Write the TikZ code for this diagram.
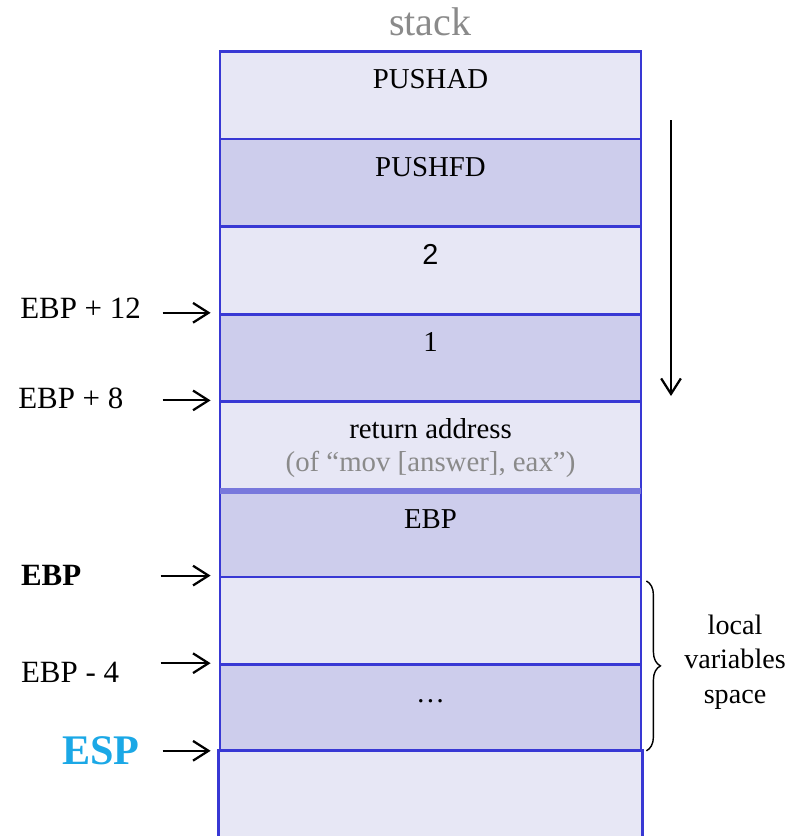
\documentclass[tikz,border=0pt]{standalone}
\usepackage{fontspec}
\setmainfont{Liberation Serif}
\newfontfamily\arialfont{Liberation Sans}
\usetikzlibrary{arrows.meta,decorations.pathreplacing}
\definecolor{stackblue}{HTML}{3838D4}
\definecolor{seplilac}{HTML}{7878DC}
\definecolor{lightcell}{HTML}{E7E7F5}
\definecolor{darkcell}{HTML}{CDCDEC}
\definecolor{espblue}{HTML}{1BA8E6}
\definecolor{notegray}{HTML}{8A8A8A}

\tikzset{
  cell/.style={rectangle, draw=stackblue, line width=2pt, minimum width=10.525cm,
    minimum height=2.19cm, inner sep=0pt, anchor=north},
  oddrow/.style={cell, fill=lightcell},
  evenrow/.style={cell, fill=darkcell},
  entry/.style={anchor=base, inner sep=0pt, font=\fontsize{20.5}{24}\selectfont},
  tag/.style={anchor=base west, inner sep=0pt, font=\fontsize{22}{26}\selectfont},
  ptr/.style={-{Straight Barb[length=11pt,width=14pt,line width=1.6pt]}, line width=1.5pt},
}

\begin{document}
\begin{tikzpicture}

  % bounding box
  \useasboundingbox (0,0) rectangle (20.075,-20.9);

  % title
  \node[anchor=base, inner sep=0pt, text=notegray, font=\fontsize{28.5}{32}\selectfont]
    (title) at (10.76,-0.9) {stack};

  % stack cells
  \node[oddrow]  (c1) at (10.7625,-1.25)  {};
  \node[evenrow] (c2) at (10.7625,-3.44)  {};
  \node[oddrow]  (c3) at (10.7625,-5.63)  {};
  \node[evenrow] (c4) at (10.7625,-7.82)  {};
  \node[oddrow]  (c5) at (10.7625,-10.01) {};
  \node[evenrow] (c6) at (10.7625,-12.2)  {};
  \node[oddrow]  (c7) at (10.7625,-14.39) {};
  \node[evenrow] (c8) at (10.7625,-16.58) {};
  \node[oddrow, draw=none, minimum height=2.13cm] (c9) at (10.7625,-18.77) {};
  \draw[stackblue, line width=2pt] (c9.south west) -- (c9.north west) -- (c9.north east) -- (c9.south east);

  % frame boundary (return address / saved EBP)
  \draw[seplilac, line width=4.3pt, shorten <=1pt, shorten >=1pt] (c5.south west) -- (c5.south east);

  % cell texts
  \node[entry] (t1) at ([yshift=-0.97cm]c1.north) {PUSHAD};
  \node[entry] (t2) at ([yshift=-0.97cm]c2.north) {PUSHFD};
  \node[entry, font=\arialfont\fontsize{20.5}{24}\selectfont] (t3) at ([yshift=-0.97cm]c3.north) {2};
  \node[entry] (t4) at ([yshift=-0.97cm]c4.north) {1};
  \node[entry] (t5) at ([yshift=-0.95cm]c5.north) {return address};
  \node[entry, text=notegray] (t5b) at ([yshift=-1.78cm]c5.north) {(of “mov [answer], eax”)};
  \node[entry] (t6) at ([yshift=-1.0cm]c6.north) {EBP};
  \node[entry] (t8) at ([yshift=-0.97cm]c8.north) {…};

  % pointer labels
  \node[tag] (l4) at (0.5,-7.95)   {EBP + 12};
  \node[tag] (l5) at (0.45,-10.2)  {EBP + 8};
  \node[tag, font=\bfseries\fontsize{22}{26}\selectfont] (l7) at (0.52,-14.625) {EBP};
  \node[tag] (l8) at (0.52,-17.05) {EBP - 4};
  \node[tag, text=espblue, font=\bfseries\fontsize{30}{34}\selectfont] (l9) at (1.55,-19.1) {ESP};

  % pointer arrows
  \coordinate (s4) at ([xshift=-1.4cm]c4.north west);
  \coordinate (s5) at ([xshift=-1.4cm]c5.north west);
  \coordinate (s7) at ([xshift=-1.45cm]c7.north west);
  \coordinate (s8) at ([xshift=-1.45cm]c8.north west);
  \coordinate (s9) at ([xshift=-1.4cm]c9.north west);
  \draw[ptr] (s4) -- ([xshift=-0.2cm]c4.north west);
  \draw[ptr] (s5) -- ([xshift=-0.2cm]c5.north west);
  \draw[ptr] (s7) -- ([xshift=-0.2cm]c7.north west);
  \draw[ptr] (s8) -- ([xshift=-0.2cm]c8.north west);
  \draw[ptr] (s9) -- ([xshift=-0.2cm]c9.north west);

  % growth direction
  \coordinate (g1) at (16.775,-3.0);
  \coordinate (g2) at (16.775,-9.9);
  \draw[ptr] (g1) -- (g2);

  % local variables brace
  \draw[decorate, decoration={brace, amplitude=0.35cm}, line width=1pt]
    ([xshift=0.1cm,yshift=-0.135cm]c7.north east) -- ([xshift=0.1cm,yshift=0.07cm]c8.south east);
  \node[align=center, inner sep=0pt, font=\fontsize{20}{24.5}\selectfont] (lv) at (18.375,-16.55)
    {local\\variables\\space};

\end{tikzpicture}
\end{document}
